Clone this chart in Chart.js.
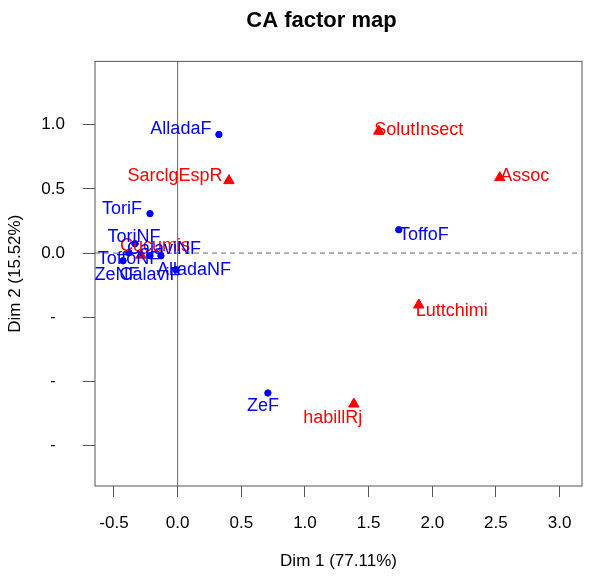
<!DOCTYPE html>
<html>
<head>
<meta charset="utf-8">
<script src="https://cdn.jsdelivr.net/npm/chart.js@4"></script>
<style>
  body { margin: 0; background: #fff; }
</style>
</head>
<body>
<canvas id="myChart" width="597" height="580"></canvas>
<script>
// rows (blue) and columns (red) of the CA
const rowNames = ['AlladaF', 'ToriF', 'ToriNF', 'ToffoNF', 'ZeNF', 'CalaviF', 'CalaviNF', 'AlladaNF', 'ToffoF', 'ZeF'];
const rowDim1 = [0.324, -0.217, -0.335, -0.382, -0.429, -0.217, -0.131, -0.013, 1.737, 0.709];
const rowDim2 = [0.923, 0.307, 0.073, 0.002, -0.06, -0.021, -0.021, -0.13, 0.182, -1.089];

const colNames = ['SolutInsect', 'Assoc', 'SarclgEspR', 'Cucumis', 'Luttchimi', 'habillRj'];
const colDim1 = [1.580, 2.530, 0.403, -0.288, 1.894, 1.384];
const colDim2 = [0.949, 0.587, 0.564, -0.016, -0.404, -1.175];

const xTicks = [-0.5, 0, 0.5, 1, 1.5, 2, 2.5, 3];
const yTicks = [-1.5, -1, -0.5, 0, 0.5, 1];

// label offsets in pixels (text centre relative to point)
const rowLabelOffsets = [[-38, -5], [-28, -5], [-1, -7], [0, 6], [-6, 14], [0, 19], [3, -7], [18, 0], [25, 5], [-5, 13]];
const colLabelOffsets = [[40, -1], [25, -2], [-54, -5], [14, -9], [33, 6], [-21, 14]];

const FONT = 'Liberation Sans, Arial, Helvetica, sans-serif';

const factorLines = {
  id: 'factorLines',
  afterLayout(chart) {
    // nudge the title a bit left of the plot centre
    const tb = chart.titleBlock;
    if (tb) { tb.left -= 17; tb.right -= 17; }
  },
  beforeDatasetsDraw(chart) {
    const c = chart.ctx, a = chart.chartArea;
    const x0 = chart.scales.x.getPixelForValue(0);
    const y0 = chart.scales.y.getPixelForValue(0);
    c.save();
    c.strokeStyle = '#666';
    c.lineWidth = 1;
    c.beginPath();
    c.moveTo(x0, a.top); c.lineTo(x0, a.bottom);
    c.stroke();
    c.setLineDash([5, 4]);
    c.beginPath();
    c.moveTo(a.left, y0); c.lineTo(a.right, y0);
    c.stroke();
    c.setLineDash([]);
    c.strokeStyle = '#555';
    c.strokeRect(a.left, a.top, a.right - a.left, a.bottom - a.top);
    c.restore();
  },
  afterDatasetsDraw(chart) {
    const c = chart.ctx;
    c.save();
    c.font = '18px ' + FONT;
    c.textAlign = 'center';
    c.textBaseline = 'middle';
    // red labels first, blue ones on top
    const sets = [[1, colNames, colLabelOffsets, '#ff0000'], [0, rowNames, rowLabelOffsets, '#0000ff']];
    sets.forEach(([di, names, offs, col]) => {
      const meta = chart.getDatasetMeta(di);
      c.fillStyle = col;
      meta.data.forEach((pt, i) => {
        c.fillText(names[i], pt.x + offs[i][0], pt.y + offs[i][1]);
      });
    });
    c.restore();
  }
};

new Chart(document.getElementById('myChart'), {
  type: 'scatter',
  data: {
    datasets: [{
      label: 'rows',
      data: rowNames.map((n, i) => ({ x: rowDim1[i], y: rowDim2[i] })),
      backgroundColor: '#0000ff',
      borderColor: '#0000ff',
      pointStyle: 'circle',
      pointRadius: 3.2
    }, {
      label: 'columns',
      data: colNames.map((n, i) => ({ x: colDim1[i], y: colDim2[i] })),
      backgroundColor: '#ff0000',
      borderColor: '#ff0000',
      pointStyle: 'triangle',
      pointRadius: 6
    }]
  },
  options: {
    responsive: false,
    animation: false,
    layout: { padding: { right: 15 } },
    plugins: {
      legend: { display: false },
      tooltip: { enabled: false },
      title: {
        display: true,
        fullSize: false,
        text: 'CA factor map',
        color: '#000',
        font: { family: FONT, size: 22, weight: 'bold' },
        padding: { top: 8, bottom: 27 }
      }
    },
    scales: {
      x: {
        type: 'linear',
        min: -0.649,
        max: 3.176,
        afterBuildTicks: s => { s.ticks = xTicks.map(v => ({ value: v })); },
        afterFit: s => { s.height = 94; },
        border: { display: false },
        grid: { drawOnChartArea: false, drawTicks: true, tickLength: 11, color: '#555' },
        ticks: {
          padding: 16,
          color: '#000',
          font: { family: FONT, size: 17 },
          callback: v => v.toFixed(1)
        },
        title: {
          display: true,
          text: 'Dim 1 (77.11%)',
          color: '#000',
          font: { family: FONT, size: 17 },
          padding: { top: 0, bottom: 8 }
        }
      },
      y: {
        type: 'linear',
        min: -1.813,
        max: 1.492,
        afterBuildTicks: s => { s.ticks = yTicks.map(v => ({ value: v })); },
        afterFit: s => { s.width = 95; },
        border: { display: false },
        grid: { drawOnChartArea: false, drawTicks: true, tickLength: 12, color: '#555' },
        ticks: {
          padding: 18,
          crossAlign: 'center',
          color: '#000',
          font: { family: FONT, size: 17 },
          callback: v => (v < 0 ? '-' : v.toFixed(1))
        },
        title: {
          display: true,
          text: 'Dim 2 (15.52%)',
          color: '#000',
          font: { family: FONT, size: 17 },
          padding: { top: 5, bottom: 0 }
        }
      }
    }
  },
  plugins: [factorLines]
});
</script>
</body>
</html>
